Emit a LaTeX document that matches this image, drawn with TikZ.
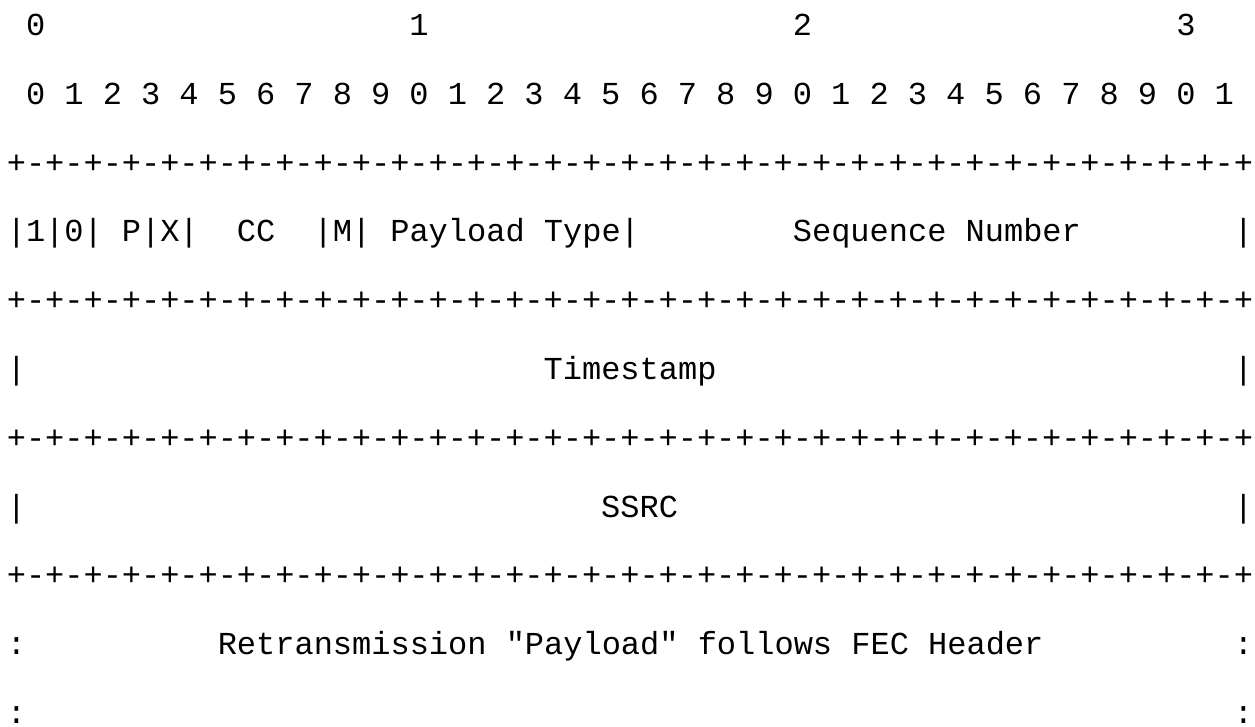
\documentclass[tikz,border=0pt]{standalone}
\usepackage{fontspec}
\setmonofont{Liberation Mono}

\begin{document}
\begin{tikzpicture}[x=9.585pt, y=-34.4pt,
  chr/.style={inner sep=0pt, anchor=base west, font=\ttfamily\fontsize{16}{19}\selectfont}]
  \useasboundingbox (-3.25pt,17.75pt) rectangle (624.25pt,-345.75pt);
  % octet and bit numbers
  \foreach \d in {0,1,2,3}
    \node[chr] (oct\d) at (1+20*\d,0) {\d};
  \foreach \b in {0,...,31} {
    \pgfmathtruncatemacro{\u}{mod(\b,10)}
    \node[chr] (bit\b) at (2*\b+1,1) {\u};
  }
  % +-+- rules
  \foreach \r in {2,4,6,8} {
    \foreach \c in {0,...,32}
      \node[chr] (plus\r-\c) at (2*\c,\r) {+};
    \foreach \c in {0,...,31}
      \node[chr] (dash\r-\c) at (2*\c+1,\r) {-};
  }
  % first word
  \foreach \c in {0,2,4,7,9,16,18,32,64}
    \node[chr] (bar3-\c) at (\c,3) {|};
  \node[chr] (ver1) at (1,3) {1};
  \node[chr] (ver0) at (3,3) {0};
  \node[chr] (pad) at (6,3) {P};
  \node[chr] (ext) at (8,3) {X};
  \node[chr] (cc) at (12,3) {CC};
  \node[chr] (mark) at (17,3) {M};
  \node[chr] (ptype) at (20,3) {Payload Type};
  \node[chr] (seqnum) at (41,3) {Sequence Number};
  % timestamp and ssrc
  \foreach \r in {5,7} {
    \node[chr] (left\r) at (0,\r) {|};
    \node[chr] (right\r) at (64,\r) {|};
  }
  \node[chr] (tstamp) at (28,5) {Timestamp};
  \node[chr] (ssrc) at (31,7) {SSRC};
  % payload
  \foreach \r in {9,10} {
    \node[chr] (lcol\r) at (0,\r) {:};
    \node[chr] (rcol\r) at (64,\r) {:};
  }
  \node[chr] (payload) at (11,9) {Retransmission "Payload" follows FEC Header};
\end{tikzpicture}
\end{document}
